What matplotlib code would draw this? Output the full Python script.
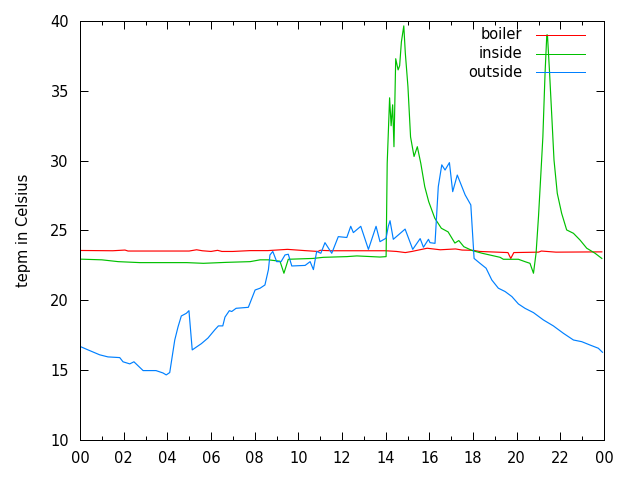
import numpy as np
import matplotlib.pyplot as plt
from matplotlib.ticker import MultipleLocator, FuncFormatter

# hours since midnight, temperature in Celsius
boiler_h = [0.0, 1.5, 2.06, 2.2, 5.0, 5.34, 5.6, 6.0, 6.3, 6.5, 7.0, 7.79, 8.6, 9.0, 9.5,
            10.3, 10.9, 11.0, 11.5, 13.0, 14.0, 14.5, 14.9, 15.2, 15.9, 16.5, 17.2, 17.5,
            18.0, 18.3, 19.6, 19.73, 19.87, 21.0, 21.13, 21.8, 23.9]
boiler_t = [23.57, 23.55, 23.6, 23.53, 23.53, 23.62, 23.55, 23.5, 23.58, 23.5, 23.5, 23.56,
            23.56, 23.6, 23.65, 23.56, 23.5, 23.58, 23.55, 23.55, 23.55, 23.5, 23.42, 23.5,
            23.73, 23.62, 23.68, 23.6, 23.58, 23.5, 23.42, 23.0, 23.42, 23.45, 23.53, 23.45,
            23.47]

inside_h = [0.0, 1.0, 1.75, 2.75, 4.89, 5.65, 6.72, 7.79, 8.25, 8.63, 9.16, 9.34, 9.54,
            10.67, 11.15, 12.22, 12.68, 13.74, 14.02, 14.07, 14.18, 14.25, 14.32, 14.38,
            14.46, 14.57, 14.64, 14.72, 14.83, 14.9, 15.02, 15.14, 15.3, 15.45, 15.61, 15.79,
            15.97, 16.25, 16.55, 16.86, 17.17, 17.35, 17.58, 17.97, 18.42, 19.24, 19.39,
            20.08, 20.38, 20.61, 20.77, 20.89, 21.0, 21.11, 21.2, 21.3, 21.38, 21.41, 21.5,
            21.61, 21.71, 21.86, 22.06, 22.29, 22.6, 22.9, 23.21, 23.59, 23.9]
inside_t = [22.95, 22.9, 22.77, 22.7, 22.7, 22.65, 22.72, 22.77, 22.9, 22.9, 22.8, 21.94,
            22.94, 23.0, 23.08, 23.13, 23.18, 23.1, 23.13, 29.8, 34.5, 32.5, 34.0, 31.0,
            37.3, 36.5, 36.8, 38.5, 39.65, 37.7, 35.3, 31.7, 30.3, 31.0, 29.8, 28.14, 27.07,
            25.88, 25.16, 24.9, 24.1, 24.28, 23.84, 23.56, 23.37, 23.08, 22.94, 22.94, 22.77,
            22.65, 21.94, 23.4, 26.0, 29.1, 31.7, 36.26, 39.0, 39.0, 36.5, 33.15, 30.05,
            27.66, 26.23, 25.04, 24.8, 24.32, 23.73, 23.37, 23.0]

outside_h = [0.0, 0.37, 0.9, 1.28, 1.82, 1.97, 2.28, 2.47, 2.89, 3.48, 3.8, 3.95, 4.11,
             4.34, 4.49, 4.64, 4.87, 4.99, 5.14, 5.56, 5.86, 6.18, 6.34, 6.54, 6.64, 6.84,
             6.95, 7.15, 7.71, 8.02, 8.25, 8.47, 8.63, 8.7, 8.83, 9.01, 9.21, 9.39, 9.54,
             9.7, 10.31, 10.54, 10.69, 10.84, 11.03, 11.22, 11.53, 11.83, 12.22, 12.4, 12.52,
             12.86, 13.21, 13.56, 13.74, 14.02, 14.12, 14.2, 14.35, 14.89, 15.24, 15.58,
             15.73, 15.96, 16.03, 16.26, 16.41, 16.57, 16.72, 16.92, 17.07, 17.28, 17.64,
             17.9, 18.05, 18.32, 18.6, 18.86, 19.16, 19.47, 19.78, 20.08, 20.38, 20.77,
             21.22, 21.68, 22.14, 22.6, 22.98, 23.36, 23.74, 23.93]
outside_t = [16.7, 16.45, 16.1, 15.95, 15.9, 15.6, 15.45, 15.6, 14.97, 14.97, 14.8, 14.66,
             14.83, 17.16, 18.1, 18.88, 19.07, 19.26, 16.45, 16.9, 17.3, 17.9, 18.17, 18.17,
             18.8, 19.26, 19.2, 19.43, 19.5, 20.74, 20.87, 21.1, 22.2, 23.25, 23.5, 22.77,
             22.77, 23.25, 23.3, 22.46, 22.5, 22.77, 22.2, 23.5, 23.37, 24.13, 23.37, 24.56,
             24.5, 25.3, 24.85, 25.3, 23.65, 25.3, 24.2, 24.45, 25.3, 25.7, 24.37, 25.1,
             23.65, 24.42, 23.8, 24.37, 24.13, 24.08, 28.14, 29.7, 29.33, 29.86, 27.78, 28.97,
             27.55, 26.83, 23.0, 22.65, 22.3, 21.46, 20.87, 20.63, 20.27, 19.74, 19.43, 19.12,
             18.6, 18.17, 17.64, 17.16, 17.04, 16.8, 16.57, 16.28]

series = [('boiler', boiler_h, boiler_t, '#ff0000'),
          ('inside', inside_h, inside_t, '#00c000'),
          ('outside', outside_h, outside_t, '#0080ff')]

LW = 0.72  # one pixel at 100 dpi

fig = plt.figure(figsize=(6.4, 4.8), dpi=100)
ax = fig.add_axes([80/640, 40/480, 524/640, 419/480])

for name, h, t, c in series:
    ax.plot(h, t, color=c, lw=0.85)

ax.set_xlim(0, 24)
ax.set_ylim(10, 40)
ax.xaxis.set_major_locator(MultipleLocator(2))
ax.xaxis.set_minor_locator(MultipleLocator(1))
ax.yaxis.set_major_locator(MultipleLocator(5))
ax.xaxis.set_major_formatter(FuncFormatter(lambda v, p: '%02d' % (int(round(v)) % 24)))
ax.tick_params(which='both', direction='in', top=True, right=True, labelsize=10.5, width=LW)
ax.tick_params(which='major', length=6)
ax.tick_params(which='minor', length=3)
ax.tick_params(axis='x', pad=8)
ax.tick_params(axis='y', pad=8)
for s in ax.spines.values():
    s.set_linewidth(LW)
    s.set_antialiased(False)
ax.set_ylabel('tepm in Celsius', fontsize=10.5, labelpad=14)

# gnuplot style key: right aligned text, sample line to its right
for i, (name, h, t, c) in enumerate(series):
    y = 0.9666 - i * 0.0445
    ax.text(0.8435, y, name, transform=ax.transAxes, ha='right', va='center', fontsize=10.5)
    ax.plot([0.870, 0.964], [y, y], color=c, lw=LW, transform=ax.transAxes, antialiased=False)

fig.savefig('out.png', facecolor='white')
